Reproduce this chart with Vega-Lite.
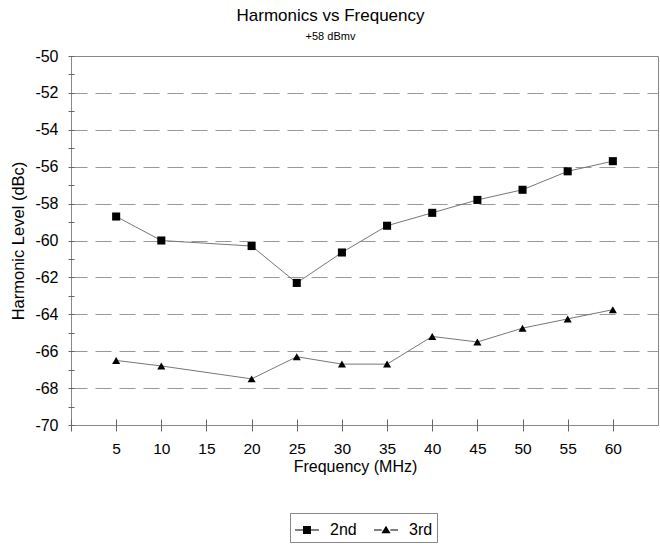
{
  "$schema": "https://vega.github.io/schema/vega-lite/v6.json",
  "width": 587,
  "height": 369,
  "autosize": {"type": "none"},
  "padding": {"left": 71, "top": 56, "right": 2, "bottom": 125},
  "background": "white",
  "config": {"font": "Liberation Sans", "view": {"stroke": "#888", "strokeWidth": 1}},
  "title": {
    "text": "Harmonics vs Frequency",
    "subtitle": "+58 dBmv",
    "fontSize": 17,
    "fontWeight": "normal",
    "color": "black",
    "subtitleFontSize": 11,
    "subtitleColor": "black",
    "subtitlePadding": 6,
    "offset": 5,
    "dx": -34,
    "anchor": "middle"
  },
  "data": {
    "values": [
      {"series": "2nd", "freq": 5, "level": -58.7},
      {"series": "2nd", "freq": 10, "level": -60.0},
      {"series": "2nd", "freq": 20, "level": -60.3},
      {"series": "2nd", "freq": 25, "level": -62.3},
      {"series": "2nd", "freq": 30, "level": -60.65},
      {"series": "2nd", "freq": 35, "level": -59.2},
      {"series": "2nd", "freq": 40, "level": -58.5},
      {"series": "2nd", "freq": 45, "level": -57.8},
      {"series": "2nd", "freq": 50, "level": -57.25},
      {"series": "2nd", "freq": 55, "level": -56.25},
      {"series": "2nd", "freq": 60, "level": -55.7},
      {"series": "3rd", "freq": 5, "level": -66.5},
      {"series": "3rd", "freq": 10, "level": -66.8},
      {"series": "3rd", "freq": 20, "level": -67.5},
      {"series": "3rd", "freq": 25, "level": -66.3},
      {"series": "3rd", "freq": 30, "level": -66.7},
      {"series": "3rd", "freq": 35, "level": -66.7},
      {"series": "3rd", "freq": 40, "level": -65.2},
      {"series": "3rd", "freq": 45, "level": -65.5},
      {"series": "3rd", "freq": 50, "level": -64.75},
      {"series": "3rd", "freq": 55, "level": -64.25},
      {"series": "3rd", "freq": 60, "level": -63.75}
    ]
  },
  "encoding": {
    "x": {
      "field": "freq",
      "type": "quantitative",
      "scale": {"domain": [0, 65], "nice": false, "zero": false},
      "axis": {
        "title": "Frequency (MHz)",
        "titleX": 284,
        "values": [0, 5, 10, 15, 20, 25, 30, 35, 40, 45, 50, 55, 60],
        "labelExpr": "datum.value == 0 ? '' : datum.label",
        "labelFontSize": 15.5,
        "labelColor": "black",
        "labelFlush": false,
        "labelPadding": 10,
        "titleFontSize": 16,
        "titleFontWeight": "normal",
        "titleColor": "black",
        "titlePadding": 2,
        "grid": false,
        "domain": false,
        "offset": -6,
        "tickSize": 12,
        "tickColor": "#666"
      }
    },
    "y": {
      "field": "level",
      "type": "quantitative",
      "scale": {"domain": [-70, -50], "nice": false, "zero": false},
      "axis": {
        "title": "Harmonic Level (dBc)",
        "values": [-70, -69, -68, -67, -66, -65, -64, -63, -62, -61, -60, -59, -58, -57, -56, -55, -54, -53, -52, -51, -50],
        "labelExpr": "datum.value % 2 == 0 ? ('' + datum.value) : ''",
        "labelOverlap": false,
        "labelFontSize": 16,
        "labelColor": "black",
        "labelPadding": 10,
        "titleFontSize": 16.5,
        "titleFontWeight": "normal",
        "titleColor": "black",
        "titlePadding": 8,
        "grid": true,
        "gridDash": [16, 8],
        "gridColor": "#999",
        "gridOpacity": {"condition": {"test": "datum.value % 2 == 0 && datum.value > -70 && datum.value < -50", "value": 1}, "value": 0},
        "domain": false,
        "offset": -3,
        "tickSize": 6,
        "tickColor": "#666"
      }
    }
  },
  "layer": [
    {
      "mark": {"type": "line", "color": "#777", "strokeWidth": 1},
      "encoding": {"detail": {"field": "series", "type": "nominal"}}
    },
    {
      "mark": {"type": "point", "filled": true, "color": "black", "opacity": 1, "size": 65},
      "encoding": {
        "shape": {
          "field": "series",
          "type": "nominal",
          "scale": {"domain": ["2nd", "3rd"], "range": ["square", "triangle-up"]},
          "legend": null
        }
      }
    },
    {
      "transform": [{"filter": "datum.freq < 0"}],
      "mark": {"type": "point", "filled": true, "color": "black", "opacity": 1},
      "encoding": {
        "shape": {
          "field": "series",
          "type": "nominal",
          "scale": {"domain": ["2nd", "3rd"], "range": ["M-1,-0.045H-0.33V0.045H-1ZM0.33,-0.045H1V0.045H0.33ZM-0.33,-0.33H0.33V0.33H-0.33Z", "M-1,-0.045H-0.36V0.045H-1ZM0.36,-0.045H1V0.045H0.36ZM0,-0.36L0.38,0.28H-0.38Z"]},
          "legend": {
            "title": null,
            "orient": "none",
            "legendX": 219,
            "legendY": 457,
            "direction": "horizontal",
            "strokeColor": "#888",
            "padding": 4,
            "labelFontSize": 16,
            "labelColor": "black",
            "labelOffset": 10,
            "columnPadding": 14,
            "symbolSize": 576,
            "symbolFillColor": "black",
            "symbolOpacity": 1
          }
        }
      }
    }
  ],
  "resolve": {"scale": {"shape": "independent"}, "legend": {"shape": "independent"}}
}
